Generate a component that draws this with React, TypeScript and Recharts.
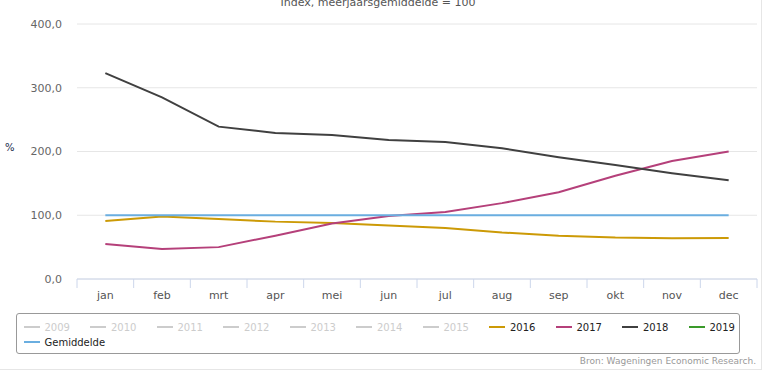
import React from 'react';
import { LineChart, Line, XAxis, YAxis, CartesianGrid } from 'recharts';

const months = ['jan', 'feb', 'mrt', 'apr', 'mei', 'jun', 'jul', 'aug', 'sep', 'okt', 'nov', 'dec'];
const v2016 = [91, 98, 94, 90, 88, 84, 80, 73, 68, 65, 64, 64.5];
const v2017 = [55, 47, 50, 68, 87, 99, 105, 119, 136, 162, 185, 200];
const v2018 = [323, 285, 239, 229, 226, 218, 215, 205, 191, 179, 166, 155];
const gemiddelde = [100, 100, 100, 100, 100, 100, 100, 100, 100, 100, 100, 100];
const yTicks = [0, 100, 200, 300, 400];

const legendRow1 = [
  { name: '2009', color: '#cccccc', hidden: true },
  { name: '2010', color: '#cccccc', hidden: true },
  { name: '2011', color: '#cccccc', hidden: true },
  { name: '2012', color: '#cccccc', hidden: true },
  { name: '2013', color: '#cccccc', hidden: true },
  { name: '2014', color: '#cccccc', hidden: true },
  { name: '2015', color: '#cccccc', hidden: true },
  { name: '2016', color: '#cc9a06', hidden: false },
  { name: '2017', color: '#b5407a', hidden: false },
  { name: '2018', color: '#404040', hidden: false },
  { name: '2019', color: '#3a9a2a', hidden: false },
];
const legendRow2 = [{ name: 'Gemiddelde', color: '#6aaee0', hidden: false }];

const data = months.map((m, i) => ({
  m,
  pos: i + 0.5,
  y2016: v2016[i],
  y2017: v2017[i],
  y2018: v2018[i],
  avg: gemiddelde[i],
}));
const boundaryTicks = [...months.map((_, i) => i), months.length];
const centerTicks = months.map((_, i) => i + 0.5);

const FONT = '"DejaVu Sans", Verdana, sans-serif';

function LegendItem({ item }: { item: { name: string; color: string; hidden: boolean } }) {
  return (
    <div style={{ display: 'flex', alignItems: 'center', minWidth: 66.5, height: 15, flexShrink: 0 }}>
      <div style={{ width: 16, height: 2, background: item.color, marginRight: 5, flexShrink: 0 }} />
      <span style={{ fontSize: 10, color: item.hidden ? '#cccccc' : '#222222', whiteSpace: 'nowrap' }}>{item.name}</span>
    </div>
  );
}

export default function App() {
  return (
    <div style={{ position: 'absolute', left: 0, top: 0, width: 768, height: 371, background: '#fff', fontFamily: FONT, overflow: 'hidden' }}>
      <div style={{ position: 'absolute', left: 0, top: 0, width: 761, height: 369, borderRight: '1px solid #e6e6e6', borderBottom: '1px solid #e6e6e6' }} />
      <div style={{ position: 'absolute', left: 0, width: 756, top: -4, textAlign: 'center', fontSize: 11, color: '#555', lineHeight: '13px' }}>
        Index, meerjaarsgemiddelde = 100
      </div>
      <div style={{ position: 'absolute', left: 5, top: 142, fontSize: 10, color: '#1c2a4d', lineHeight: '12px' }}>%</div>
      <div style={{ position: 'absolute', left: 0, top: 0 }}>
        <LineChart width={768} height={371} data={data} margin={{ top: 24, right: 11, left: 0, bottom: 62 }}>
          <CartesianGrid vertical={false} stroke="#e6e6e6" />
          <XAxis
            xAxisId="b"
            type="number"
            dataKey="pos"
            domain={[0, months.length]}
            ticks={boundaryTicks}
            allowDataOverflow
            tickFormatter={() => ''}
            axisLine={{ stroke: '#ccd6eb' }}
            tickLine={{ stroke: '#ccd6eb' }}
            tickSize={9}
            height={1}
          />
          <XAxis
            xAxisId="c"
            type="number"
            dataKey="pos"
            domain={[0, months.length]}
            ticks={centerTicks}
            allowDataOverflow
            axisLine={false}
            tickLine={false}
            tickMargin={5}
            tick={{ fill: '#555', fontSize: 11, fontFamily: FONT }}
            tickFormatter={(v: number) => months[Math.floor(v)]}
            interval={0}
            height={29}
          />
          <YAxis
            domain={[0, 400]}
            ticks={yTicks}
            width={77}
            axisLine={false}
            tickLine={false}
            tickMargin={9}
            tick={{ fill: '#666', fontSize: 11, fontFamily: FONT }}
            tickFormatter={(v: number) => v.toFixed(1).replace('.', ',')}
          />
          <Line xAxisId="b" dataKey="y2016" stroke="#cc9a06" strokeWidth={2} dot={false} activeDot={false} isAnimationActive={false} />
          <Line xAxisId="b" dataKey="y2017" stroke="#b5407a" strokeWidth={2} dot={false} activeDot={false} isAnimationActive={false} />
          <Line xAxisId="b" dataKey="y2018" stroke="#404040" strokeWidth={2} dot={false} activeDot={false} isAnimationActive={false} />
          <Line xAxisId="b" dataKey="avg" stroke="#6aaee0" strokeWidth={2} dot={false} activeDot={false} isAnimationActive={false} />
        </LineChart>
      </div>
      <div style={{ position: 'absolute', left: 15.5, top: 312.5, width: 724, height: 41, border: '1px solid #999', borderRadius: 3, boxSizing: 'border-box' }}>
        <div style={{ position: 'absolute', left: 7, top: 6, display: 'flex' }}>
          {legendRow1.map((it) => <LegendItem key={it.name} item={it} />)}
        </div>
        <div style={{ position: 'absolute', left: 7, top: 21, display: 'flex' }}>
          {legendRow2.map((it) => <LegendItem key={it.name} item={it} />)}
        </div>
      </div>
      <div style={{ position: 'absolute', right: 12, top: 355, fontSize: 9, color: '#999', lineHeight: '12px' }}>
        Bron: Wageningen Economic Research.
      </div>
    </div>
  );
}
